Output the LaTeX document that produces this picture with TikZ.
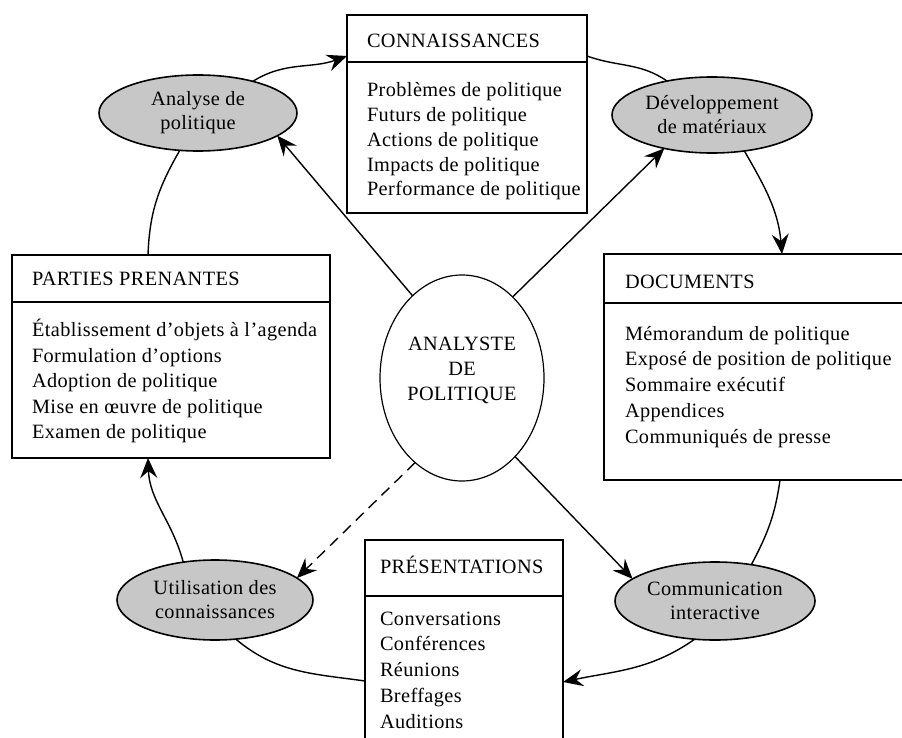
\documentclass[tikz,border=0pt]{standalone}
\usepackage{fontspec}
\setmainfont{Liberation Serif}[LetterSpace=2.0]
\usetikzlibrary{arrows.meta,shapes.geometric,calc}
\begin{document}
\begin{tikzpicture}[x=1pt,y=-1pt,
  every node/.style={inner sep=0pt, outer sep=0pt},
  title/.style={font=\fontsize{20.3}{24}\selectfont, anchor=base west},
  body/.style={font=\fontsize{20.3}{#1}\selectfont, align=left, anchor=north west},
  frame/.style={draw, line width=1.3pt, anchor=north west},
  rule/.style={line width=1.3pt},
  activity/.style={ellipse, draw, line width=1.6pt, fill=black!22,
    font=\fontsize{20.3}{24}\selectfont, align=center},
  flow/.style={line width=1.4pt},
  arr/.style={flow, -{Stealth[length=20pt,width=17pt,inset=7pt]}},
  dashflow/.style={arr, dash pattern=on 11pt off 7pt}]

\useasboundingbox (0,0) rectangle (902,738);
\clip (0,0) rectangle (902,738);

% ---- knowledge box (top) ----
\node[frame, minimum width=240pt, minimum height=198pt] (conn) at (347,15) {};
\draw[rule] (conn.west |- 0,62) -- (conn.east |- 0,62);
\node[title] (conn-t) at (367,47.5) {CONNAISSANCES};
\node[body=24.8] (conn-b) at (367,79.3) {\strut Problèmes de politique\\Futurs de politique\\Actions de politique\\Impacts de politique\\Performance de politique};

% ---- stakeholders box (left) ----
\node[frame, minimum width=318pt, minimum height=203pt] (parties) at (12,255) {};
\draw[rule] (parties.west |- 0,302) -- (parties.east |- 0,302);
\node[title] (parties-t) at (32,285) {PARTIES PRENANTES};
\node[body=25.5] (parties-b) at (32,319) {\strut Établissement d’objets à l’agenda\\Formulation d’options\\Adoption de politique\\Mise en œuvre de politique\\Examen de politique};

% ---- documents box (right) ----
\node[frame, minimum width=320pt, minimum height=226pt] (docs) at (604,254) {};
\draw[rule] (docs.west |- 0,303) -- (docs.east |- 0,303);
\node[title] (docs-t) at (625,288) {DOCUMENTS};
\node[body=25.75] (docs-b) at (625,322) {\strut Mémorandum de politique\\Exposé de position de politique\\Sommaire exécutif\\Appendices\\Communiqués de presse};

% ---- presentations box (bottom) ----
\node[frame, minimum width=198pt, minimum height=230pt] (pres) at (365,540) {};
\draw[rule] (pres.west |- 0,596) -- (pres.east |- 0,596);
\node[title] (pres-t) at (380,573) {PRÉSENTATIONS};
\node[body=25.75] (pres-b) at (380,607) {\strut Conversations\\Conférences\\Réunions\\Breffages\\Auditions};

% ---- activities ----
\node[activity, minimum width=198pt, minimum height=76pt] (ana) at (198,113) {Analyse de\\politique};
\node[activity, minimum width=200pt, minimum height=76pt] (dev) at (712,115) {Développement\\de matériaux};
\node[activity, minimum width=200pt, minimum height=78pt] (com) at (715,601) {Communication\\interactive};
\node[activity, minimum width=196pt, minimum height=80pt] (uti) at (215,600) {Utilisation des\\connaissances};

% ---- analyst (centre) ----
\node[ellipse, draw, line width=1.2pt, minimum width=164pt, minimum height=206pt] (cen) at (462,378) {};
\node[font=\fontsize{20.3}{25}\selectfont, align=center] (cen-t) at (462,370) {ANALYSTE\\DE\\POLITIQUE};

% ---- attachment points on the boxes ----
\coordinate (conn-in)  at (conn.west |- 0,56);
\coordinate (conn-out) at (conn.east |- 0,56);
\coordinate (docs-in)  at (docs.north -| 782,0);
\coordinate (docs-out) at (docs.south -| 780,0);
\coordinate (pres-in)  at (pres.east |- 0,682);
\coordinate (pres-l)   at (pres.west |- 0,681);
\coordinate (par-in)   at (parties.south -| 148,0);
\coordinate (par-out)  at (parties.north -| 148,0);

% ---- outer cycle ----
\draw[arr]  (ana.30) to[out=32,in=200] (conn-in);
\draw[flow] (conn-out) to[out=-20,in=145] (dev.143);
\draw[arr]  (dev.-48) to[out=-60,in=95] (docs-in);
\draw[flow] (docs-out) to[out=-98,in=62] (com.45);
\draw[arr]  (com.-118) to[out=-145,in=12] (pres-in);
\draw[flow] (uti.-62) to[out=-40,in=172] (pres-l);
\draw[arr]  (uti.130) to[out=105,in=-88] (par-in);
\draw[flow] (par-out) to[out=88,in=-120] (ana.-116);

% ---- spokes from the analyst ----
\draw[arr] (cen.121) -- (ana.-16);
\draw[arr] (cen.58) -- (dev.-145);
\draw[dashflow] (cen.-119) -- (uti.15);
\draw[arr] (cen.-56) -- (com.165);
\end{tikzpicture}
\end{document}
